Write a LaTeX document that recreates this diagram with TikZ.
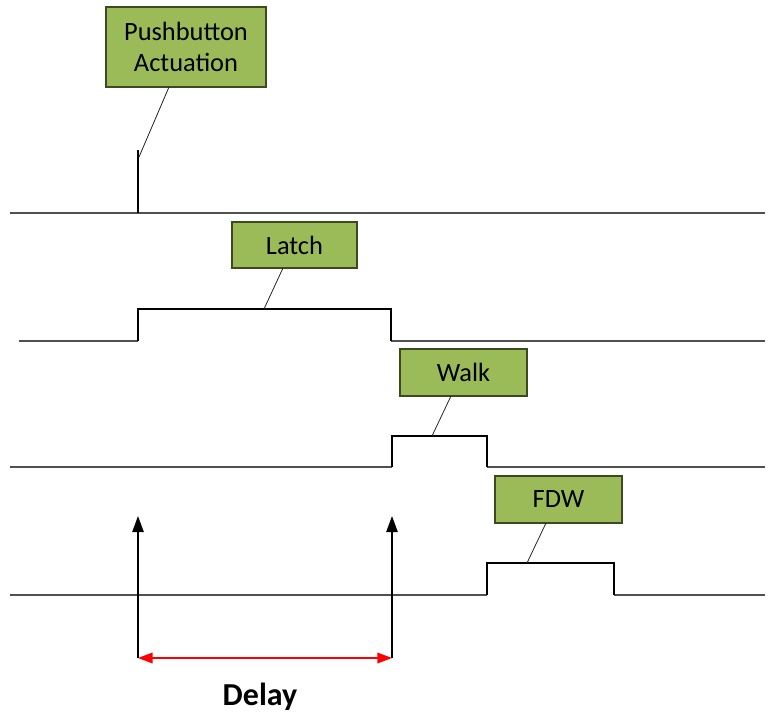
\documentclass[tikz,border=0pt]{standalone}
\usepackage{fontspec}
\setmainfont{Carlito}
\usetikzlibrary{arrows.meta}
\definecolor{boxgreen}{HTML}{9BBB59}
\definecolor{boxedge}{HTML}{3B4A1F}
\definecolor{baseg}{HTML}{505050}
\begin{document}
\begin{tikzpicture}[x=0.75pt,y=-0.75pt,
  label box/.style={draw=boxedge,line width=0.8pt,fill=boxgreen,inner sep=0pt,align=center,font=\fontsize{19.8}{23.5}\selectfont},
  baseline line/.style={draw=baseg,line width=1.4pt},
  signal/.style={draw=black,line width=1.1pt},
  leader/.style={draw=black!85,line width=0.6pt},
  mark arrow/.style={draw=black,line width=1.1pt,-{Triangle[width=8.5pt,length=12pt]}},
  delay arrow/.style={draw=red,line width=1.1pt,{Triangle[width=8pt,length=11pt]}-{Triangle[width=8pt,length=11pt]}}]
\useasboundingbox (0,0) rectangle (768,715);

% boxes
\node[label box,minimum width=120pt,minimum height=60pt] (pb) at (186,47) {Pushbutton\\Actuation};
\node[label box,minimum width=93.75pt,minimum height=34.5pt] (latch) at (294.5,245) {Latch};
\node[label box,minimum width=95.25pt,minimum height=35.25pt] (walk) at (463.5,372.5) {Walk};
\node[label box,minimum width=95.25pt,minimum height=35.25pt] (fdw) at (558.5,499.5) {FDW};

% row 1: pushbutton
\coordinate (b1l) at (10,213);
\coordinate (b1r) at (765,213);
\coordinate (pbtop) at (138,150);
\coordinate (pbbot) at (138,213);
\coordinate (pbtip) at (139,157);
\coordinate (pbfoot) at (169,87);
\draw[baseline line] (b1l) -- (b1r);
\draw[signal] (pbbot) -- (pbtop);
\draw[leader] (pbfoot) -- (pbtip);

% row 2: latch
\coordinate (l0) at (19,341);
\coordinate (l1) at (138,341);
\coordinate (l2) at (138,309);
\coordinate (l3) at (391,309);
\coordinate (l4) at (391,341);
\coordinate (l5) at (765,341);
\draw[baseline line] (l0) -- (l1);
\draw[baseline line] (l4) -- (l5);
\draw[signal] (l1) -- (l2) -- (l3) -- (l4);
\coordinate (latchfoot) at (283,268);
\coordinate (latchtip) at (264,309);
\draw[leader] (latchfoot) -- (latchtip);

% row 3: walk
\coordinate (w0) at (10,467);
\coordinate (w1) at (392,467);
\coordinate (w2) at (392,436);
\coordinate (w3) at (487,436);
\coordinate (w4) at (487,467);
\coordinate (w5) at (765,467);
\draw[baseline line] (w0) -- (w1);
\draw[baseline line] (w4) -- (w5);
\draw[signal] (w1) -- (w2) -- (w3) -- (w4);
\coordinate (walkfoot) at (451,396);
\coordinate (walktip) at (432,436);
\draw[leader] (walkfoot) -- (walktip);

% row 4: FDW
\coordinate (f0) at (10,595);
\coordinate (f1) at (487,595);
\coordinate (f2) at (487,563);
\coordinate (f3) at (614,563);
\coordinate (f4) at (614,595);
\coordinate (f5) at (765,595);
\draw[baseline line] (f0) -- (f1);
\draw[baseline line] (f4) -- (f5);
\draw[signal] (f1) -- (f2) -- (f3) -- (f4);
\coordinate (fdwfoot) at (546,523);
\coordinate (fdwtip) at (527,563);
\draw[leader] (fdwfoot) -- (fdwtip);

% delay markers
\coordinate (a1b) at (138,658);
\coordinate (a1t) at (138,516);
\coordinate (a2b) at (392,658);
\coordinate (a2t) at (392,516);
\draw[mark arrow] (a1b) -- (a1t);
\draw[mark arrow] (a2b) -- (a2t);
\draw[delay arrow] (a1b) -- (a2b);
\node[font=\bfseries\fontsize{24}{28}\selectfont] (delay) at (260,697) {Delay};
\end{tikzpicture}
\end{document}
